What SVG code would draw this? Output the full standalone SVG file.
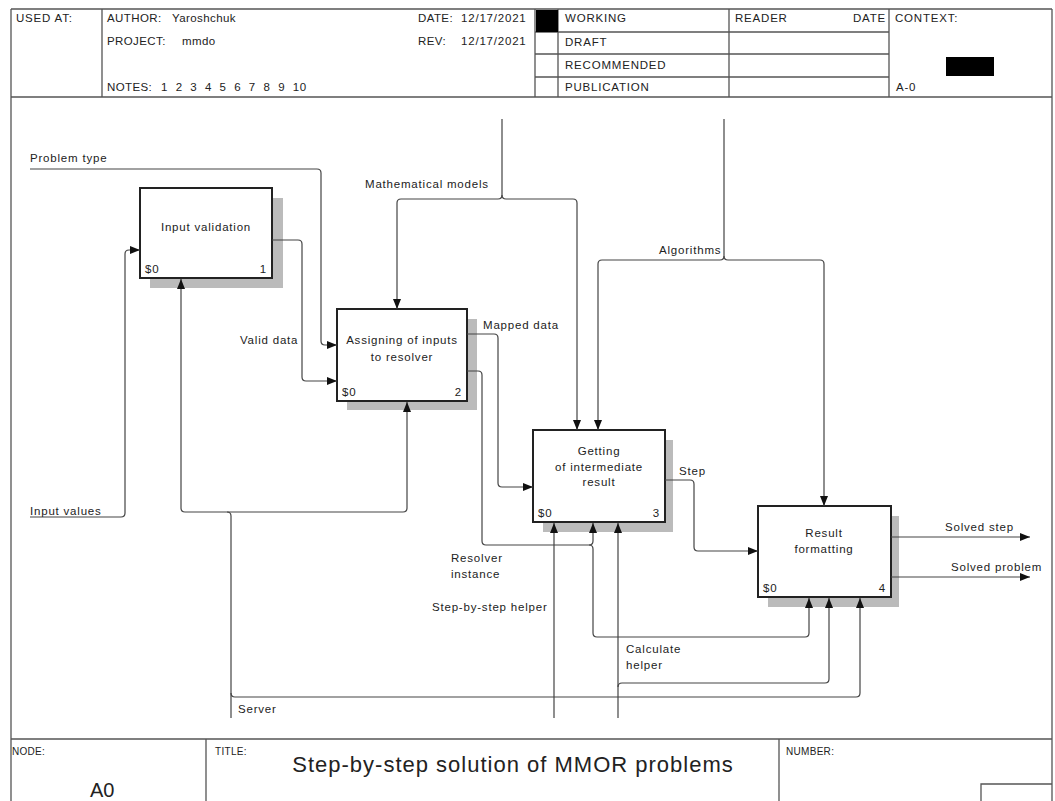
<svg xmlns="http://www.w3.org/2000/svg" width="1055" height="801" viewBox="0 0 1055 801">
<style>
text{font-family:"Liberation Sans",Arial,sans-serif;fill:#222;font-size:11.5px;letter-spacing:0.8px;}
.frame{stroke:#555;stroke-width:1.3;fill:none;}
.c{stroke:#444;stroke-width:1.2;fill:none;}
.box{fill:#fff;stroke:#222;stroke-width:2;}
.sh{fill:#bbb;}
.bt{text-anchor:middle;}
.s{font-size:10px;letter-spacing:0.3px;}
.hd{letter-spacing:0.4px;}
</style>
<defs>
<marker id="ar" markerUnits="userSpaceOnUse" markerWidth="10" markerHeight="8" refX="10" refY="4" orient="auto">
<path d="M0,0 L10,4 L0,8 Z" fill="#111"/>
</marker>
</defs>
<rect width="1055" height="801" fill="#fff"/>
<g id="header">
<path class="frame" d="M11,9 H1052 M11,97 H1052 M11,9 V801 M1052,9 V801 M102,9 V97 M535,9 V97 M558,9 V97 M729,9 V97 M889,9 V97 M535,32 H889 M535,54 H889 M535,77 H889"/>
<rect x="536" y="10" width="22" height="22" fill="#000"/>
<rect x="946" y="57" width="48" height="19" fill="#000"/>
<text x="16" y="22">USED AT:</text>
<text class="hd" x="107" y="22">AUTHOR:</text>
<text class="hd" x="172" y="22">Yaroshchuk</text>
<text class="hd" x="107" y="45">PROJECT:</text>
<text class="hd" x="182" y="45">mmdo</text>
<text class="hd" x="107" y="91">NOTES:</text>
<text x="161" y="91" textLength="146" style="white-space:pre">1  2  3  4  5  6  7  8  9  10</text>
<text class="hd" x="418" y="22">DATE:</text>
<text x="461" y="22">12/17/2021</text>
<text class="hd" x="418" y="45">REV:</text>
<text x="461" y="45">12/17/2021</text>
<text x="565" y="22">WORKING</text>
<text x="565" y="46">DRAFT</text>
<text x="565" y="69">RECOMMENDED</text>
<text x="565" y="91">PUBLICATION</text>
<text x="735" y="22">READER</text>
<text x="886" y="22" text-anchor="end">DATE</text>
<text x="895" y="22">CONTEXT:</text>
<text x="896" y="91">A-0</text>
</g>
<g id="footer">
<path class="frame" d="M11,739 H1052 M206,739 V801 M779,739 V801 M981,801 V784 H1052"/>
<text class="s" x="12" y="755">NODE:</text>
<text x="90" y="797" style="font-size:20px;letter-spacing:0">A0</text>
<text class="s" x="215" y="755">TITLE:</text>
<text x="513" y="772" style="font-size:22px;letter-spacing:1px" text-anchor="middle">Step-by-step solution of MMOR problems</text>
<text class="s" x="786" y="755">NUMBER:</text>
</g>
<g id="node1">
<rect class="sh" x="150" y="198" width="133" height="90"/>
<rect class="box" x="140" y="188" width="132" height="90"/>
<text class="bt" x="206" y="231">Input validation</text>
<text x="145" y="273">$0</text>
<text x="267" y="273" text-anchor="end">1</text>
</g>
<g id="node2">
<rect class="sh" x="347" y="319" width="130" height="91"/>
<rect class="box" x="337" y="309" width="130" height="92"/>
<text class="bt" x="402" y="344">Assigning of inputs</text>
<text class="bt" x="402" y="361">to resolver</text>
<text x="342" y="396">$0</text>
<text x="462" y="396" text-anchor="end">2</text>
</g>
<g id="node3">
<rect class="sh" x="543" y="440" width="130" height="92"/>
<rect class="box" x="533" y="430" width="132" height="92"/>
<text class="bt" x="599" y="455">Getting</text>
<text class="bt" x="599" y="471">of intermediate</text>
<text class="bt" x="599" y="486">result</text>
<text x="538" y="517">$0</text>
<text x="660" y="517" text-anchor="end">3</text>
</g>
<g id="node4">
<rect class="sh" x="768" y="516" width="131" height="91"/>
<rect class="box" x="758" y="506" width="133" height="91"/>
<text class="bt" x="824" y="537">Result</text>
<text class="bt" x="824" y="553">formatting</text>
<text x="763" y="592">$0</text>
<text x="886" y="592" text-anchor="end">4</text>
</g>
<g id="connectors">
<path class="c" marker-end="url(#ar)" d="M30,169 H317 Q321,169 321,173 V341 Q321,345 325,345 H337"/>
<path class="c" marker-end="url(#ar)" d="M272,240 H298 Q302,240 302,244 V377 Q302,381 306,381 H337"/>
<path class="c" marker-end="url(#ar)" d="M30,517 H121 Q125,517 125,513 V254 Q125,250 129,250 H140"/>
<path class="c" marker-end="url(#ar)" d="M231,718 V516 Q231,512 227,512 H185 Q181,512 181,508 V279"/>
<path class="c" marker-end="url(#ar)" d="M227,512 Q231,512 235,512 H403 Q407,512 407,508 V402"/>
<path class="c" marker-end="url(#ar)" d="M231,693 Q231,697 235,697 H856 Q860,697 860,693 V598"/>
<path class="c" marker-end="url(#ar)" d="M502,119 V195 Q502,199 498,199 H401 Q397,199 397,203 V309"/>
<path class="c" marker-end="url(#ar)" d="M502,195 Q502,199 506,199 H573 Q577,199 577,203 V430"/>
<path class="c" marker-end="url(#ar)" d="M724,119 V256 Q724,260 720,260 H602 Q598,260 598,264 V430"/>
<path class="c" marker-end="url(#ar)" d="M724,256 Q724,260 728,260 H820 Q824,260 824,264 V506"/>
<path class="c" marker-end="url(#ar)" d="M467,334 H494 Q498,334 498,338 V483 Q498,487 502,487 H533"/>
<path class="c" marker-end="url(#ar)" d="M467,371 H478 Q482,371 482,375 V541 Q482,545 486,545 H589 Q593,545 593,541 V523"/>
<path class="c" marker-end="url(#ar)" d="M589,545 Q593,545 593,549 V633 Q593,637 597,637 H805 Q809,637 809,633 V598"/>
<path class="c" marker-end="url(#ar)" d="M554,718 V523"/>
<path class="c" marker-end="url(#ar)" d="M618,718 V523"/>
<path class="c" marker-end="url(#ar)" d="M618,687 Q618,683 622,683 H825 Q829,683 829,679 V598"/>
<path class="c" marker-end="url(#ar)" d="M665,480 H690 Q694,480 694,484 V547 Q694,551 698,551 H758"/>
<path class="c" marker-end="url(#ar)" d="M891,537 H1030"/>
<path class="c" marker-end="url(#ar)" d="M891,577 H1030"/>
<text x="30" y="162">Problem type</text>
<text x="365" y="188">Mathematical models</text>
<text x="659" y="254">Algorithms</text>
<text x="240" y="344">Valid data</text>
<text x="483" y="329">Mapped data</text>
<text x="679" y="475">Step</text>
<text x="30" y="515">Input values</text>
<text x="451" y="562">Resolver</text>
<text x="451" y="578">instance</text>
<text x="432" y="611">Step-by-step helper</text>
<text x="626" y="653">Calculate</text>
<text x="626" y="669">helper</text>
<text x="945" y="531">Solved step</text>
<text x="951" y="571">Solved problem</text>
<text x="238" y="713">Server</text>
</g>
</svg>
